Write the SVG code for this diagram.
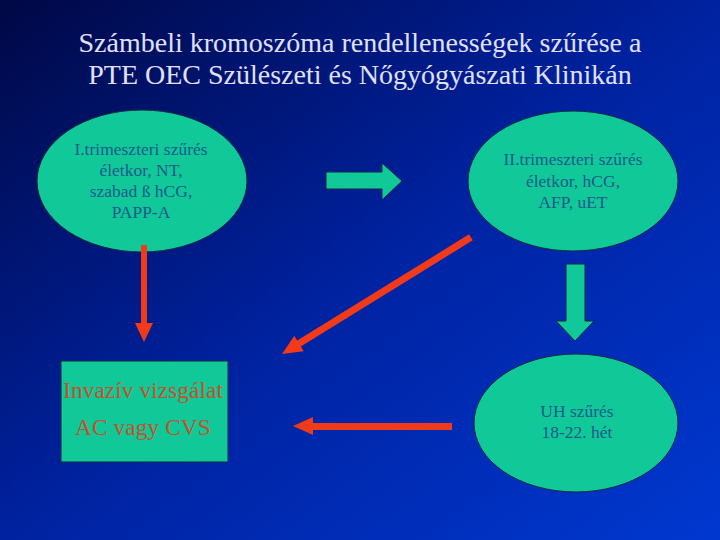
<svg xmlns="http://www.w3.org/2000/svg" width="720" height="540" viewBox="0 0 720 540">
<defs>
<linearGradient id="bg" x1="0" y1="0" x2="1" y2="1">
<stop offset="0" stop-color="#000845"/>
<stop offset="0.5" stop-color="#0022a0"/>
<stop offset="1" stop-color="#0038d0"/>
</linearGradient>
<style>
.title{font-family:"Liberation Serif",serif;font-size:28px;fill:#e0e0ff;text-anchor:middle}
.node{fill:#10c898;stroke:#0a2a40;stroke-width:1}
.ntxt{font-family:"Liberation Serif",serif;font-size:17.5px;fill:#1f5a8c;text-anchor:middle}
.rtxt{font-family:"Liberation Serif",serif;font-size:23.5px;fill:#c8502a;text-anchor:middle}
.red{fill:#f03a1a}
.grn{fill:#10c898;stroke:#0a2a40;stroke-width:1}
</style>
</defs>
<rect width="720" height="540" fill="url(#bg)"/>
<text class="title" x="360" y="52">Számbeli kromoszóma rendellenességek szűrése a</text>
<text class="title" x="360" y="84">PTE OEC Szülészeti és Nőgyógyászati Klinikán</text>
<g id="n1">
<ellipse class="node" cx="142" cy="181" rx="105" ry="71"/>
<text class="ntxt" x="141" y="155">I.trimeszteri szűrés</text>
<text class="ntxt" x="141" y="176">életkor, NT,</text>
<text class="ntxt" x="141" y="197">szabad ß hCG,</text>
<text class="ntxt" x="141" y="218">PAPP-A</text>
</g>
<g id="n2">
<ellipse class="node" cx="573" cy="181" rx="105" ry="70"/>
<text class="ntxt" x="573" y="165">II.trimeszteri szűrés</text>
<text class="ntxt" x="573" y="187">életkor, hCG,</text>
<text class="ntxt" x="573" y="208">AFP, uET</text>
</g>
<g id="n3">
<ellipse class="node" cx="576" cy="423" rx="102" ry="69"/>
<text class="ntxt" x="577" y="417">UH szűrés</text>
<text class="ntxt" x="577" y="438">18-22. hét</text>
</g>
<g id="n4">
<rect class="node" x="61" y="361" width="167" height="101"/>
<text class="rtxt" x="143" y="398">Invazív vizsgálat</text>
<text class="rtxt" x="143" y="435">AC vagy CVS</text>
</g>
<g id="connectors">
<polygon class="grn" points="326,172 382,172 382,163 402,181 382,200 382,189 326,189"/>
<polygon class="grn" points="566,264 585,264 585,321 594,321 575,341 556,321 566,321"/>
<polygon class="red" points="141,245 147,245 147,323 153,323 144,342 135,323 141,323"/>
<g transform="translate(282,354) rotate(-31.7)">
<polygon class="red" points="0,0 20,-9 20,-3.5 222,-3.5 222,3.5 20,3.5 20,9"/>
</g>
<polygon class="red" points="293,426 313,417 313,423 452,423 452,430 313,430 313,435"/>
</g>
</svg>
